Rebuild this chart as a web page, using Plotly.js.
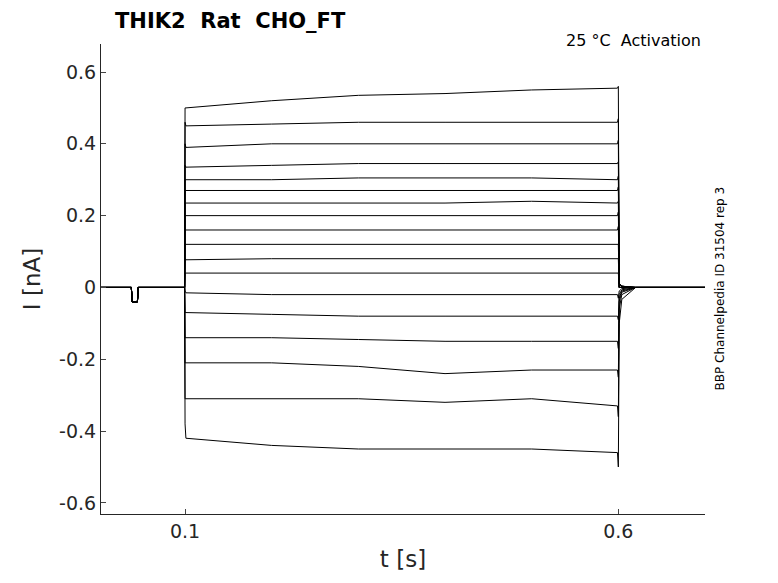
<!DOCTYPE html>
<html><head><meta charset="utf-8">
<script src="https://cdn.plot.ly/plotly-3.0.1.min.js"></script>
<style>body{margin:0}#plot{width:778px;height:583px}</style>
</head><body><div id="plot"></div>
<script>
// time points (s) used for every sweep
var t = [0.003, 0.038, 0.039, 0.045, 0.046, 0.0995, 0.1, 0.101, 0.2, 0.3, 0.4, 0.5, 0.599, 0.6, 0.601, 0.604, 0.62, 0.7];
// step levels: start, 0.2, 0.3, 0.4, 0.5, end (nA)
var levels = [
  [0.50, 0.52, 0.535, 0.54, 0.55, 0.555],
  [0.45, 0.455, 0.46, 0.46, 0.46, 0.46],
  [0.39, 0.40, 0.40, 0.40, 0.40, 0.40],
  [0.335, 0.34, 0.345, 0.345, 0.345, 0.345],
  [0.30, 0.30, 0.305, 0.305, 0.305, 0.30],
  [0.27, 0.27, 0.27, 0.27, 0.27, 0.27],
  [0.235, 0.235, 0.235, 0.235, 0.24, 0.235],
  [0.20, 0.20, 0.20, 0.20, 0.20, 0.20],
  [0.16, 0.16, 0.16, 0.16, 0.16, 0.16],
  [0.12, 0.12, 0.12, 0.12, 0.12, 0.12],
  [0.077, 0.08, 0.08, 0.08, 0.08, 0.08],
  [0.04, 0.04, 0.04, 0.04, 0.04, 0.04],
  [-0.015, -0.02, -0.02, -0.02, -0.02, -0.02],
  [-0.07, -0.075, -0.08, -0.08, -0.08, -0.08],
  [-0.14, -0.14, -0.145, -0.15, -0.15, -0.15],
  [-0.21, -0.21, -0.22, -0.24, -0.23, -0.23],
  [-0.31, -0.31, -0.31, -0.32, -0.31, -0.33],
  [-0.42, -0.44, -0.45, -0.45, -0.45, -0.46]
];
var onsetPeak = [0.50, 0.46, 0.40, 0.34, 0.30, 0.27, 0.235, 0.20, 0.16, 0.12, 0.08, 0.04, -0.01, -0.07, -0.14, -0.21, -0.31, -0.38];
var offsetTail = [0.56, 0.47, 0.41, 0.35, 0.31, 0.28, 0.24, 0.21, 0.17, 0.12, 0.08, 0.04, -0.03, -0.09, -0.17, -0.25, -0.36, -0.50];
var recovery = [0.01, 0.01, 0.01, 0.01, 0.01, 0.0, 0.0, 0.0, 0.0, 0.0, 0.0, 0.0, -0.01, -0.02, -0.03, -0.04, -0.06, -0.1];

var data = levels.map(function (lv, i) {
  var y = [0, 0, -0.04, -0.04, 0, 0, onsetPeak[i], lv[0], lv[1], lv[2], lv[3], lv[4], lv[5], offsetTail[i], recovery[i], recovery[i] / 3, 0, 0];
  return {x: t, y: y, type: 'scatter', mode: 'lines', line: {color: 'black', width: 1}, hoverinfo: 'skip', showlegend: false};
});

var layout = {
  width: 778, height: 583,
  margin: {l: 101, r: 73, t: 44, b: 69},
  paper_bgcolor: 'white', plot_bgcolor: 'white',
  font: {family: 'DejaVu Sans', color: '#262626'},
  xaxis: {range: [0.003, 0.7], tickvals: [0.1, 0.6], ticktext: ['0.1', '0.6'], ticks: 'inside', ticklen: 5,
    showgrid: false, zeroline: false, showline: true, linecolor: '#262626', tickfont: {size: 19},
    title: {text: 't [s]', font: {size: 23}, standoff: 10}},
  yaxis: {range: [-0.631, 0.678], tickvals: [-0.6, -0.4, -0.2, 0, 0.2, 0.4, 0.6],
    ticktext: ['-0.6', '-0.4', '-0.2', '0', '0.2', '0.4', '0.6'], ticks: 'inside', ticklen: 5,
    showgrid: false, zeroline: false, showline: true, linecolor: '#262626', tickfont: {size: 19},
    title: {text: 'I [nA]', font: {size: 23}, standoff: 12}},
  annotations: [
    {xref: 'paper', yref: 'paper', x: 0.02, y: 1.02, xanchor: 'left', yanchor: 'bottom', showarrow: false,
      text: '<b>THIK2  Rat  CHO_FT</b>', font: {size: 21, color: 'black'}},
    {xref: 'paper', yref: 'paper', x: 0.997, y: 1.032, xanchor: 'right', yanchor: 'top', showarrow: false,
      text: '25 °C  Activation', font: {size: 16, color: 'black'}},
    {xref: 'paper', yref: 'paper', x: 1.01, y: 0.48, xanchor: 'left', yanchor: 'middle', showarrow: false, textangle: -90,
      text: 'BBP Channelpedia ID 31504 rep 3', font: {size: 12, color: 'black'}}
  ]
};
Plotly.newPlot('plot', data, layout, {displayModeBar: false});
</script></body></html>
